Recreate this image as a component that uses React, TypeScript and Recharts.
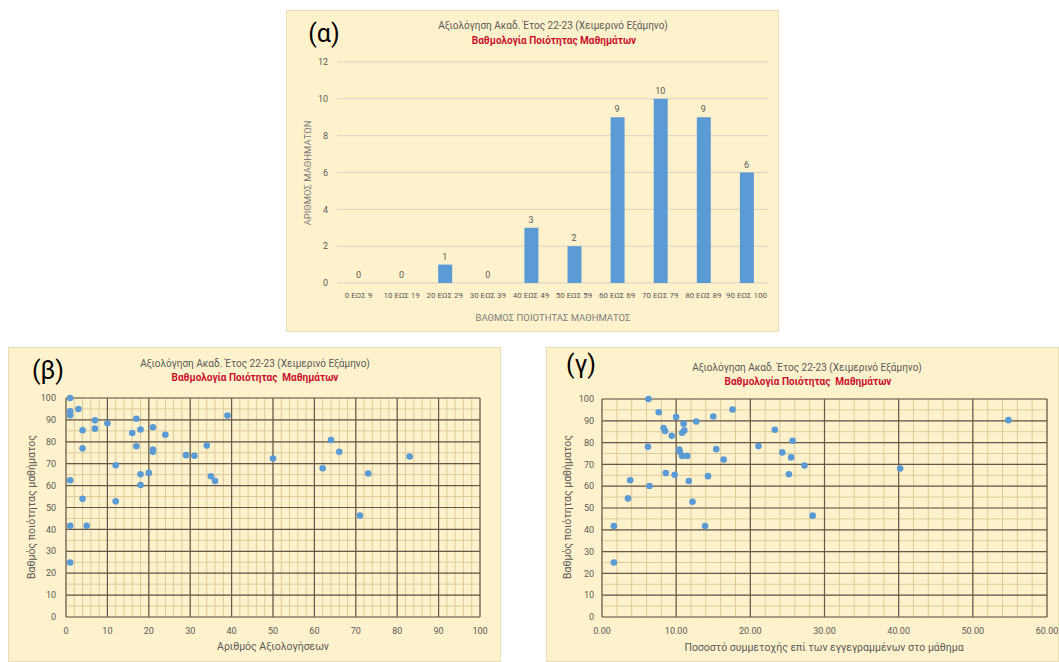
import React from "react";
import {
  ComposedChart, Bar, Line, XAxis, YAxis, CartesianGrid, LabelList,
  ScatterChart, Scatter,
} from "recharts";

// ---------- Data ----------
const titleText = "Αξιολόγηση Ακαδ. Έτος 22-23 (Χειμερινό Εξάμηνο)";
const subtitleA = "Βαθμολογία Ποιότητας Μαθημάτων";
const subtitleBG = "Βαθμολογία Ποιότητας  Μαθημάτων";

const gradeBins = [
  "0 ΕΩΣ 9", "10 ΕΩΣ 19", "20 ΕΩΣ 29", "30 ΕΩΣ 39", "40 ΕΩΣ 49",
  "50 ΕΩΣ 59", "60 ΕΩΣ 69", "70 ΕΩΣ 79", "80 ΕΩΣ 89", "90 ΕΩΣ 100",
];
const courseCounts = [0, 0, 1, 0, 3, 2, 9, 10, 9, 6];
const countTicks = [0, 2, 4, 6, 8, 10, 12];

// (β) number of evaluations vs quality score
const evalCounts = [
  1, 1, 1, 3, 7, 10, 4, 7, 4, 17, 16, 18, 21, 24, 17, 21, 21, 12, 18, 20,
  18, 1, 4, 12, 1, 5, 1, 29, 31, 34, 39, 35, 36, 50, 62, 64, 66, 71, 73, 83,
];
const evalScores = [
  100, 93.9, 92.1, 95, 89.8, 88.5, 85.3, 86, 77, 90.5, 84, 85.6, 86.6, 83.2, 78, 76.5, 75.4, 69.3, 65.2, 65.8,
  60.3, 62.4, 54, 52.8, 41.7, 41.7, 24.9, 73.9, 73.6, 78.3, 92, 64.3, 62.1, 72.4, 67.9, 80.8, 75.4, 46.3, 65.5, 73.3,
];

// (γ) participation percentage vs quality score
const participation = [
  6.26, 7.65, 10, 15, 17.6, 11, 12.7, 8.3, 8.5, 9.4, 10.8, 11.1, 6.2, 10.4, 10.5, 10.8, 11.5, 15.4, 16.4, 8.6,
  9.8, 6.4, 11.7, 14.3, 3.8, 3.5, 12.2, 13.9, 1.6, 1.6, 21.1, 23.3, 24.3, 25.7, 25.5, 25.2, 27.3, 28.4, 40.2, 54.8,
];
const participationScores = [
  100, 93.9, 91.7, 92, 95.2, 88.7, 89.7, 86.7, 85.3, 83.1, 84.5, 85.6, 78.1, 76.8, 75.8, 73.9, 73.9, 77, 72.2, 66,
  65.2, 60.1, 62.4, 64.6, 62.7, 54.4, 52.9, 41.7, 41.7, 25, 78.4, 85.9, 75.5, 80.8, 73.2, 65.5, 69.5, 46.5, 68.1, 90.3,
];

const scoreTicks = [0, 10, 20, 30, 40, 50, 60, 70, 80, 90, 100];
const scoreMinorTicks = Array.from({ length: 21 }, (_, i) => i * 5);
const evalTicks = [0, 10, 20, 30, 40, 50, 60, 70, 80, 90, 100];
const evalMinorTicks = Array.from({ length: 51 }, (_, i) => i * 2);
const pctTicks = [0, 10, 20, 30, 40, 50, 60];
const pctMinorTicks = Array.from({ length: 31 }, (_, i) => i * 2);

// ---------- Styles ----------
const FONT = "Roboto, 'Noto Sans', 'DejaVu Sans', sans-serif";
const BG = "#FEF2CC";
const BLUE = "#5B9BD5";
const GRAY = "#595959";
const RED = "#C8102E";
const MAJOR = "#66584A";
const MINOR = "#DCCA9C";

const barData = gradeBins.map((bin, i) => ({ bin, count: courseCounts[i] }));
const betaData = evalCounts.map((x, i) => ({ x, y: evalScores[i] }));
const gammaData = participation.map((x, i) => ({ x, y: participationScores[i] }));

type TxtProps = {
  x: number; y: number; size: number; color?: string; bold?: boolean;
  rotate?: number; children: React.ReactNode;
};
const Txt = ({ x, y, size, color = GRAY, bold = false, rotate = 0, children }: TxtProps) => (
  <div
    style={{
      position: "absolute", left: x, top: y, fontSize: size, color,
      fontWeight: bold ? 700 : 400, fontFamily: FONT, whiteSpace: "pre",
      transform: `translate(-50%, -50%) rotate(${rotate}deg)`, lineHeight: 1,
      pointerEvents: "none",
    }}
  >
    {children}
  </div>
);

const Panel = ({ left, top, width, height, children }: any) => (
  <div
    style={{
      position: "absolute", left, top, width, height, background: BG,
      boxShadow: "inset 0 0 0 1px #EADDB6", overflow: "hidden",
    }}
  >
    {children}
  </div>
);

const Dot = (props: any) => <circle cx={props.cx} cy={props.cy} r={3.3} fill={BLUE} />;

const tickStyle = { fill: GRAY, fontSize: 9, fontFamily: FONT };

export default function App() {
  return (
    <div style={{ position: "absolute", left: 0, top: 0, width: 1059, height: 662, background: "#fff", overflow: "hidden" }}>
      {/* (α) */}
      <Panel left={286} top={10} width={493} height={322}>
        <ComposedChart width={493} height={322} data={barData} margin={{ top: 52, right: 11, left: 0, bottom: 29 }}>
          <CartesianGrid vertical={false} stroke="#DAD3C0" />
          <XAxis dataKey="bin" height={20} tickLine={false} axisLine={false} tickSize={0} tickMargin={9}
            interval={0} tick={{ ...tickStyle, fontSize: 8 }} />
          <YAxis domain={[0, 12]} ticks={countTicks} width={51} tickLine={false} axisLine={false}
            tickSize={0} tickMargin={9} tick={tickStyle} />
          <Bar dataKey="count" fill={BLUE} barSize={14} isAnimationActive={false} />
          <Line dataKey="count" stroke="none" dot={false} activeDot={false} isAnimationActive={false}>
            <LabelList dataKey="count" position="top" offset={5} fill={GRAY} fontSize={9} fontFamily={FONT} />
          </Line>
        </ComposedChart>
        <Txt x={38} y={23} size={25} color="#000">(α)</Txt>
        <Txt x={267} y={16} size={10}>{titleText}</Txt>
        <Txt x={268} y={31} size={10} color={RED} bold>{subtitleA}</Txt>
        <Txt x={22} y={163} size={9.5} color="#7F7F7F" rotate={-90}>ΑΡΙΘΜΟΣ ΜΑΘΗΜΑΤΩΝ</Txt>
        <Txt x={267} y={308} size={9.5} color="#7F7F7F">ΒΑΘΜΟΣ ΠΟΙΟΤΗΤΑΣ ΜΑΘΗΜΑΤΟΣ</Txt>
      </Panel>

      {/* (β) */}
      <Panel left={8} top={347} width={493} height={315}>
        <ScatterChart width={493} height={315} margin={{ top: 51, right: 21, left: 0, bottom: 15 }}>
          <CartesianGrid stroke={MINOR} verticalValues={evalMinorTicks} horizontalValues={scoreMinorTicks} />
          <CartesianGrid stroke={MAJOR} strokeWidth={1.2} />
          <XAxis type="number" dataKey="x" domain={[0, 100]} ticks={evalTicks} interval={0} height={30}
            tickLine={false} axisLine={false} tickSize={0} tickMargin={11} tick={tickStyle} />
          <YAxis type="number" dataKey="y" domain={[0, 100]} ticks={scoreTicks} interval={0} width={58}
            tickLine={false} axisLine={false} tickSize={0} tickMargin={10} tick={tickStyle} />
          <Scatter data={betaData} fill={BLUE} shape={Dot} isAnimationActive={false} />
        </ScatterChart>
        <Txt x={40} y={23} size={25} color="#000">(β)</Txt>
        <Txt x={247} y={17} size={10}>{titleText}</Txt>
        <Txt x={247} y={31} size={10} color={RED} bold>{subtitleBG}</Txt>
        <Txt x={24} y={160} size={10.5} rotate={-90}>Βαθμός ποιότητας μαθήματος</Txt>
        <Txt x={265} y={300} size={10.5}>Αριθμός Αξιολογήσεων</Txt>
      </Panel>

      {/* (γ) */}
      <Panel left={546} top={347} width={513} height={315}>
        <ScatterChart width={513} height={315} margin={{ top: 52, right: 12, left: 0, bottom: 15 }}>
          <CartesianGrid stroke={MINOR} verticalValues={pctMinorTicks} horizontalValues={scoreMinorTicks} />
          <CartesianGrid stroke={MAJOR} strokeWidth={1.2} />
          <XAxis type="number" dataKey="x" domain={[0, 60]} ticks={pctTicks} interval={0} height={30}
            tickLine={false} axisLine={false} tickSize={0} tickMargin={11} tick={tickStyle}
            tickFormatter={(v: number) => v.toFixed(2)} />
          <YAxis type="number" dataKey="y" domain={[0, 100]} ticks={scoreTicks} interval={0} width={56}
            tickLine={false} axisLine={false} tickSize={0} tickMargin={8} tick={tickStyle} />
          <Scatter data={gammaData} fill={BLUE} shape={Dot} isAnimationActive={false} />
        </ScatterChart>
        <Txt x={35} y={17} size={25} color="#000">(γ)</Txt>
        <Txt x={261} y={21} size={10}>{titleText}</Txt>
        <Txt x={262} y={35} size={10} color={RED} bold>{subtitleBG}</Txt>
        <Txt x={22} y={160} size={10.5} rotate={-90}>Βαθμός ποιότητας μαθήματος</Txt>
        <Txt x={278} y={301} size={10.5}>Ποσοστό συμμετοχής επί των εγγεγραμμένων στο μάθημα</Txt>
      </Panel>
    </div>
  );
}
